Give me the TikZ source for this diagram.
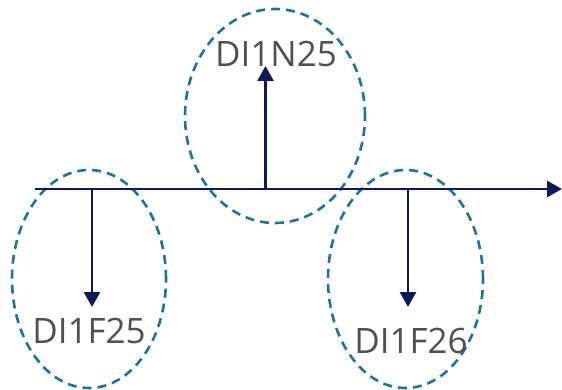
\documentclass[tikz,border=0pt]{standalone}
\usepackage{fontspec}
\setmainfont{Open Sans}
\usetikzlibrary{arrows.meta,shapes.geometric}
\definecolor{navy}{HTML}{0C1A5C}
\definecolor{ringblue}{HTML}{1A73A0}
\definecolor{labelgray}{HTML}{505050}
\tikzset{
  ring/.style={draw=ringblue, line width=2.6pt, dash pattern=on 9pt off 6pt, ellipse, inner sep=0pt},
  axis/.style={draw=navy, line width=2.8pt, -{Triangle[width=16pt,length=15pt]}},
  lbl/.style={text=labelgray, font=\fontsize{35}{35}\selectfont, inner sep=0pt, anchor=base}
}
\begin{document}
\begin{tikzpicture}[x=1pt,y=-1pt]
\useasboundingbox (0,0) rectangle (562,390);
\node[ring, minimum width=180pt, minimum height=214pt] (e2) at (275,116) {};
\node[ring, minimum width=154pt, minimum height=218pt] (e1) at (89,279) {};
\node[ring, minimum width=155pt, minimum height=218pt] (e3) at (405.5,279) {};
\coordinate (s) at (35,189);
\coordinate (t) at (562,189);
\coordinate (b1) at (92,189);
\coordinate (b2) at (265.5,189);
\coordinate (b3) at (408,189);
\coordinate (p1) at (92,307);
\coordinate (p2) at (265.5,66);
\coordinate (p3) at (408,307);
\draw[axis] (s) -- (t);
\draw[axis] (b1) -- (p1);
\draw[axis] (b2) -- (p2);
\draw[axis] (b3) -- (p3);
\node[lbl] (n2) at (276,67) {DI1N25};
\node[lbl] (n1) at (89,343) {DI1F25};
\node[lbl] (n3) at (411,353) {DI1F26};
\end{tikzpicture}
\end{document}
